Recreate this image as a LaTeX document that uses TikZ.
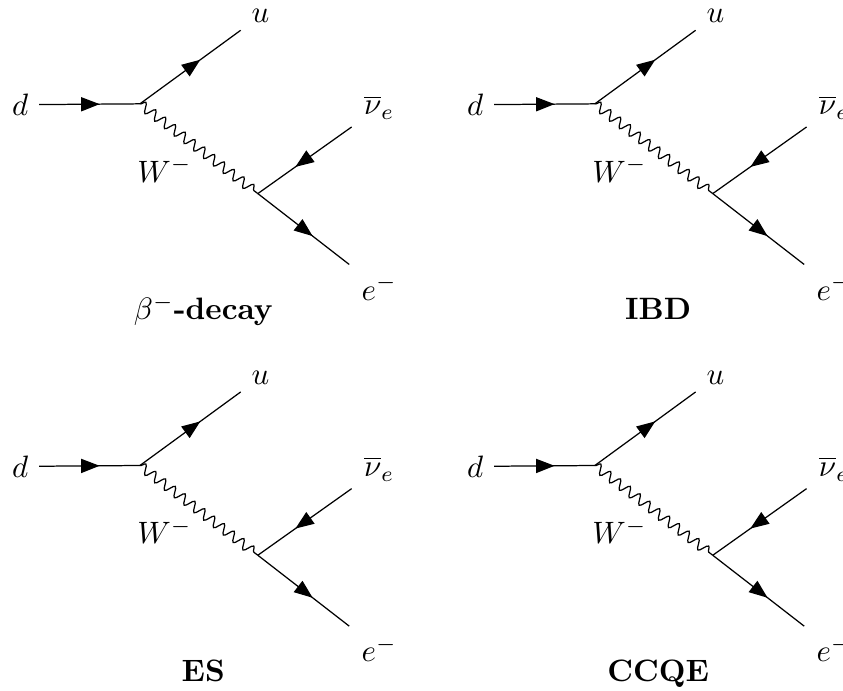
\documentclass[tikz,border=0pt]{standalone}
\usetikzlibrary{arrows.meta,decorations.markings,decorations.pathmorphing}
\tikzset{
  fermion/.style={postaction={decorate},
    decoration={markings,mark=at position 0.6 with {\arrow{Triangle[length=2.1mm,width=1.6mm]}}}},
  boson/.style={decorate,decoration={snake,amplitude=0.55mm,segment length=1.4mm}},
}
\begin{document}
\begin{tikzpicture}
  \useasboundingbox (0,0) rectangle (9.58,-7.85);
  \foreach \index/\dx/\dy/\title in {1/0/0/{$\beta^-$-decay},2/5.17/0/IBD,3/0/-4.11/ES,4/5.17/-4.11/CCQE} {
    \begin{scope}[shift={(\dx,\dy)}]
      \coordinate (vtx-a-\index) at (1.59,-1.18);
      \coordinate (vtx-b-\index) at (2.93,-2.20);
      \node (d-\index) at (0.23,-1.19) {$d$};
      \node (u-\index) at (2.96,-0.18) {$u$};
      \node[inner sep=3.8pt] (nu-\index) at (4.31,-1.22) {$\overline{\nu}_e$};
      \node[inner sep=3.8pt] (e-\index) at (4.31,-3.27) {$e^-$};
      \node (w-\index) at (1.87,-1.93) {$W^-$};
      \node[anchor=base] (title-\index) at (2.31,-3.63) {\textbf{\title}};
      \draw[fermion] (d-\index) -- (vtx-a-\index);
      \draw[fermion] (vtx-a-\index) -- (u-\index);
      \draw[boson] (vtx-a-\index) -- (vtx-b-\index);
      \draw[fermion] (nu-\index) -- (vtx-b-\index);
      \draw[fermion] (vtx-b-\index) -- (e-\index);
    \end{scope}
  }
\end{tikzpicture}
\end{document}
